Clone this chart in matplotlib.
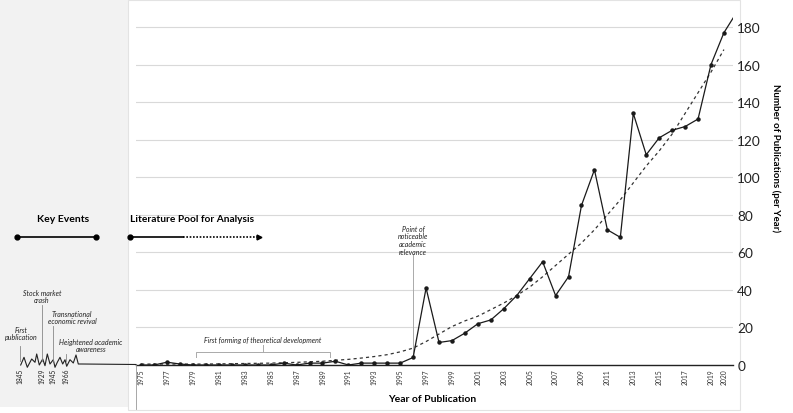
import matplotlib
matplotlib.use("Agg")
import matplotlib.pyplot as plt
from matplotlib.patches import Rectangle

# publications per year
years = list(range(1975, 2022))
pubs = [0, 0, 1.5, 0.5, 0, 0, 0, 0, 0, 0,
        0, 1, 0, 1, 1, 2, 0, 1, 1, 1,
        1, 4, 41, 12, 13, 17, 22, 24, 30, 37,
        46, 55, 37, 47, 85, 104, 72, 68, 134, 112,
        121, 125, 127, 131, 160, 177, 188]

# dashed trend line as drawn in the reference
trend_years = list(range(1975, 2021))
trend = [0.5, 0.5, 0.5, 0.5, 0.5, 0.5, 0.6, 0.7, 0.8, 0.9,
         1.0, 1.2, 1.4, 1.7, 2.0, 2.5, 3.0, 3.7, 4.5, 5.5,
         7.0, 9.0, 12.5, 16.5, 20.5, 23.5, 26, 29.5, 33, 37,
         41.5, 47, 53, 59, 65, 72, 80, 88, 97, 106,
         114, 123, 134, 145, 156, 168]

xtick_years = list(range(1975, 2020, 2)) + [2020]
ytick_vals = list(range(0, 181, 20))

# key events before the literature pool
event_years = ["1845", "1929", "1945", "1966"]
event_texts = ["First\npublication", "Stock market\ncrash",
               "Transnational\neconomic revival", "Heightened academic\nawareness"]

plt.rcParams['font.family'] = ['Lato', 'DejaVu Sans']

W, H = 793, 414
fig = plt.figure(figsize=(W / 100, H / 100), dpi=100)
fig.patch.set_facecolor("white")

# grey key-events panel and white frame (figure pixel coords)
fig.add_artist(Rectangle((0, 6 / H), 128 / W, 1 - 6 / H, transform=fig.transFigure,
                         facecolor="#f2f2f2", edgecolor="none", zorder=-3))
fig.add_artist(Rectangle((128 / W, 3 / H), 612 / W, 410 / H, transform=fig.transFigure,
                         facecolor="white", edgecolor="#e3e3e3", lw=0.8, zorder=-2))

# main chart
ax = fig.add_axes([136 / W, (H - 366) / H, (733 - 136) / W, 365 / H])
ax.set_facecolor("none")
ax.plot(trend_years, trend, color="#333333", lw=0.9, ls=(0, (2.5, 2.5)), zorder=3)
ax.plot(years, pubs, color="#1a1a1a", lw=0.9, marker="o", markersize=2.2,
        markevery=slice(0, len(years) - 1), zorder=4, clip_on=True)

ax.set_xlim(1974.6, 2020.7)
ax.set_ylim(0, 194.4)
ax.set_yticks(ytick_vals)
ax.yaxis.tick_right()
ax.tick_params(axis="y", length=0, pad=3, labelsize=9.8, labelcolor="#222222")
ax.set_xticks(xtick_years)
ax.set_xticklabels([str(y) for y in xtick_years], rotation=90, fontsize=4.9, color="#333333")
ax.tick_params(axis="x", length=0, pad=2.5)
ax.grid(axis="y", color="#d9d9d9", lw=0.8)
ax.set_axisbelow(True)
for s in ["top", "left", "right"]:
    ax.spines[s].set_visible(False)
ax.spines["bottom"].set_color("#222222")
ax.spines["bottom"].set_linewidth(1.0)

ax.set_xlabel("Year of Publication", fontsize=7.5, fontweight="bold", labelpad=6)
ax.xaxis.set_label_coords(0.497, -0.08)
ax.text(1.072, 0.57, "Number of Publications (per Year)", transform=ax.transAxes,
        rotation=270, fontsize=7, fontweight="bold", ha="center", va="center")

# bracket: first forming of theoretical development
bx0, bx1, bmid = 1979.2, 1989.6, 1984.4
ax.plot([bx0, bx0, bx1, bx1], [4.3, 6.9, 6.9, 4.3], color="#aaaaaa", lw=0.7)
ax.plot([bmid, bmid], [6.9, 10.6], color="#aaaaaa", lw=0.7)
ax.text(bmid, 13.8, "First forming of theoretical development", style="italic",
        fontsize=5, ha="center", va="center", color="#222222")

# point of noticeable academic relevance
ax.plot([1996, 1996], [4.5, 59], color="#aaaaaa", lw=0.7, zorder=2)
ax.text(1996, 67, "Point of\nnoticeable\nacademic\nrelevance", style="italic",
        fontsize=5, ha="center", va="center", linespacing=1.15, color="#222222")

# overlay in figure pixels for the key-events panel
deco = fig.add_axes([0, 0, 1, 1], zorder=5)
deco.set_xlim(0, W)
deco.set_ylim(H, 0)
deco.axis("off")
deco.patch.set_alpha(0)

deco.text(63, 220, "Key Events", fontsize=7.5, fontweight="bold", ha="center", va="center")
deco.text(130, 220, "Literature Pool for Analysis", fontsize=7.3, fontweight="bold",
          ha="left", va="center")
deco.plot([17, 96], [238, 238], color="black", lw=1.2, marker="o", markersize=3.5)
deco.plot([130, 183], [238, 238], color="black", lw=1.2)
deco.plot([130], [238], color="black", marker="o", markersize=3.5)
deco.plot([183, 257], [238, 238], color="black", lw=1.2, ls=(0, (1, 1)))
deco.plot([259], [238], color="black", marker=">", markersize=3.5)

# axis-break squiggle and flat run to the main axis
sq_x = [20.7, 24, 27.3, 31.7, 35, 36.7, 39.3, 42.7, 45, 47.3, 50, 53.3, 55, 57.3,
        60, 62.7, 65, 66.7, 70, 73.3, 76, 78.3, 81.7, 136]
sq_y = [366, 358.3, 368.3, 360, 363.3, 355, 366, 360, 366.7, 355, 365, 360.7, 368.3,
        363.3, 358.3, 365, 360.7, 367.3, 360.7, 364, 356, 365, 365, 365.5]
deco.plot(sq_x, sq_y, color="#222222", lw=0.8)
deco.plot([135.5, 135.5], [366, 410], color="#999999", lw=0.6)

ev_x = [20, 42, 53, 66]
ev_top = [347, 306, 327, 355]
ev_text_xy = [(21, 334), (42, 297), (72, 318), (91, 346)]
for yr, txt, x, top, (tx, ty) in zip(event_years, event_texts, ev_x, ev_top, ev_text_xy):
    deco.plot([x, x], [top, 362], color="#888888", lw=0.6)
    deco.text(x, 369, yr, rotation=90, fontsize=4.8, ha="center", va="top", color="#222222")
    deco.text(tx, ty, txt, style="italic", fontsize=5, ha="center", va="center",
              linespacing=1.1, color="#222222")

fig.savefig("out.png", dpi=100, facecolor=fig.get_facecolor())
